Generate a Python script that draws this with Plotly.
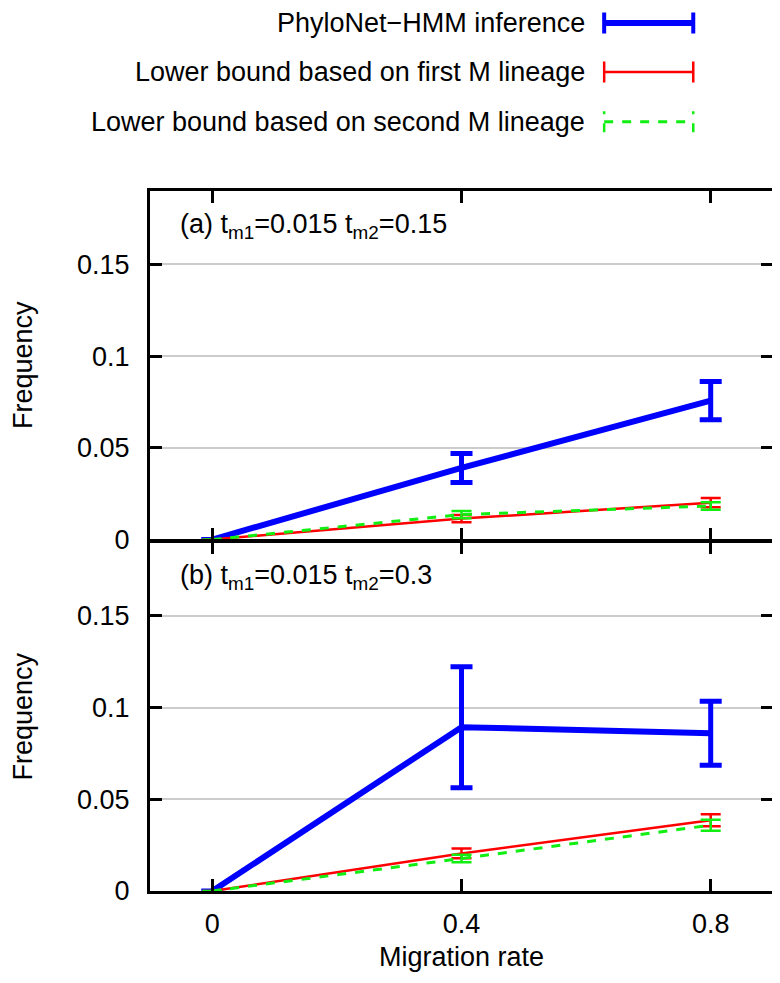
import plotly.graph_objects as go
from plotly.subplots import make_subplots

# migration rates on the x axis
rates = [0, 0.4, 0.8]

# panel (a) t_m1=0.015 t_m2=0.15
hmm_a = [0, 0.039, 0.0757]
hmm_a_err = [0, 0.0079, 0.0104]
first_a = [0, 0.0114, 0.0201]
first_a_err = [0, 0.0020, 0.0025]
second_a = [0, 0.0136, 0.0183]
second_a_err = [0, 0.0020, 0.0020]

# panel (b) t_m1=0.015 t_m2=0.3
hmm_b = [0, 0.0893, 0.086]
hmm_b_err = [0, 0.033, 0.0175]
first_b = [0, 0.0205, 0.0386]
first_b_err = [0, 0.0027, 0.0033]
second_b = [0, 0.0177, 0.0359]
second_b_err = [0, 0.0020, 0.0030]

x_ticks = [0, 0.4, 0.8]
x_ticktext = ["0", "0.4", "0.8"]
y_ticks = [0, 0.05, 0.1, 0.15]
y_ticktext = ["0", "0.05", "0.1", "0.15"]

series_names = ["PhyloNet\u2212HMM inference",
                "Lower bound based on first M lineage",
                "Lower bound based on second M lineage"]

BLUE = "#0000ff"
RED = "#ff0000"
GREEN = "#11ee11"
FONT = "Liberation Sans"
FS = 27

fig = make_subplots(rows=2, cols=1, shared_xaxes=True, vertical_spacing=0)

panels = [
    (1, hmm_a, hmm_a_err, first_a, first_a_err, second_a, second_a_err),
    (2, hmm_b, hmm_b_err, first_b, first_b_err, second_b, second_b_err),
]
for row, hmm, hmm_err, first, first_err, second, second_err in panels:
    fig.add_trace(go.Scatter(
        x=rates, y=hmm, mode="lines", name=series_names[0], showlegend=False,
        line=dict(color=BLUE, width=6),
        error_y=dict(type="data", array=hmm_err, color=BLUE, thickness=5, width=11),
    ), row=row, col=1)
    fig.add_trace(go.Scatter(
        x=rates, y=first, mode="lines", name=series_names[1], showlegend=False,
        line=dict(color=RED, width=2.5),
        error_y=dict(type="data", array=first_err, color=RED, thickness=2.5, width=10),
    ), row=row, col=1)
    fig.add_trace(go.Scatter(
        x=rates, y=second, mode="lines", name=series_names[2], showlegend=False,
        line=dict(color=GREEN, width=3, dash="dash"),
        error_y=dict(type="data", array=second_err, color=GREEN, thickness=2.5, width=10),
    ), row=row, col=1)

axis_common = dict(
    showline=True, linecolor="black", linewidth=3, mirror="ticks",
    ticks="inside", ticklen=12, tickwidth=3, tickcolor="black",
    zeroline=False,
    tickfont=dict(family=FONT, size=FS, color="black"),
)
for row in (1, 2):
    fig.update_yaxes(
        range=[0, 0.19], tickvals=y_ticks, ticktext=y_ticktext,
        showgrid=True, gridcolor="#cccccc", gridwidth=1.5,
        ticklabelstandoff=12,
        title=dict(text="Frequency", font=dict(family=FONT, size=FS, color="black"), standoff=46),
        row=row, col=1, **axis_common)
    fig.update_xaxes(
        range=[-0.1, 0.9], tickvals=x_ticks, ticktext=x_ticktext, showgrid=False,
        row=row, col=1, **axis_common)
fig.update_xaxes(
    title=dict(text="Migration rate", font=dict(family=FONT, size=FS, color="black"), standoff=9),
    ticklabelstandoff=7, row=2, col=1)

# the two panels overlap by one line width so their shared frame line is drawn once
fig.update_layout(yaxis=dict(domain=[0.5021, 1]), yaxis2=dict(domain=[0, 0.4979]))

# panel labels
fig.add_annotation(text="(a) t<sub>m1</sub>=0.015 t<sub>m2</sub>=0.15", xref="x domain", yref="y domain",
                   x=0.045, y=0.9, xanchor="left", yanchor="middle", showarrow=False,
                   font=dict(family=FONT, size=FS, color="black"))
fig.add_annotation(text="(b) t<sub>m1</sub>=0.015 t<sub>m2</sub>=0.3", xref="x2 domain", yref="y2 domain",
                   x=0.045, y=0.9, xanchor="left", yanchor="middle", showarrow=False,
                   font=dict(family=FONT, size=FS, color="black"))

# key at the top: text on the left, line sample with error caps on the right
key_styles = [(BLUE, 6, 4, "solid"), (RED, 2.5, 2.5, "solid"), (GREEN, 3, 2.5, "dash")]
key_y = [1.24, 1.17, 1.099]
x0, x1, xt = 0.729, 0.872, 0.702
for name, (color, lw, cw, dash), ky in zip(series_names, key_styles, key_y):
    fig.add_annotation(text=name, xref="paper", yref="paper", x=xt, y=ky,
                       xanchor="right", yanchor="middle", showarrow=False,
                       font=dict(family=FONT, size=FS, color="black"))
    fig.add_shape(type="line", xref="paper", yref="paper", x0=x0, x1=x1, y0=ky, y1=ky,
                  line=dict(color=color, width=lw, dash=dash))
    for cx in (x0, x1):
        fig.add_shape(type="line", xref="paper", yref="paper", x0=cx, x1=cx,
                      y0=ky - 0.015, y1=ky + 0.015, line=dict(color=color, width=cw, dash=dash))

# page body keeps a default 8px margin, so the figure is sized to fit inside it
fig.update_layout(
    width=772, height=975,
    margin=dict(l=137, r=4, t=183, b=92),
    paper_bgcolor="white", plot_bgcolor="white",
    showlegend=False,
    font=dict(family=FONT, size=FS, color="black"),
)

fig.write_html("out.html")
